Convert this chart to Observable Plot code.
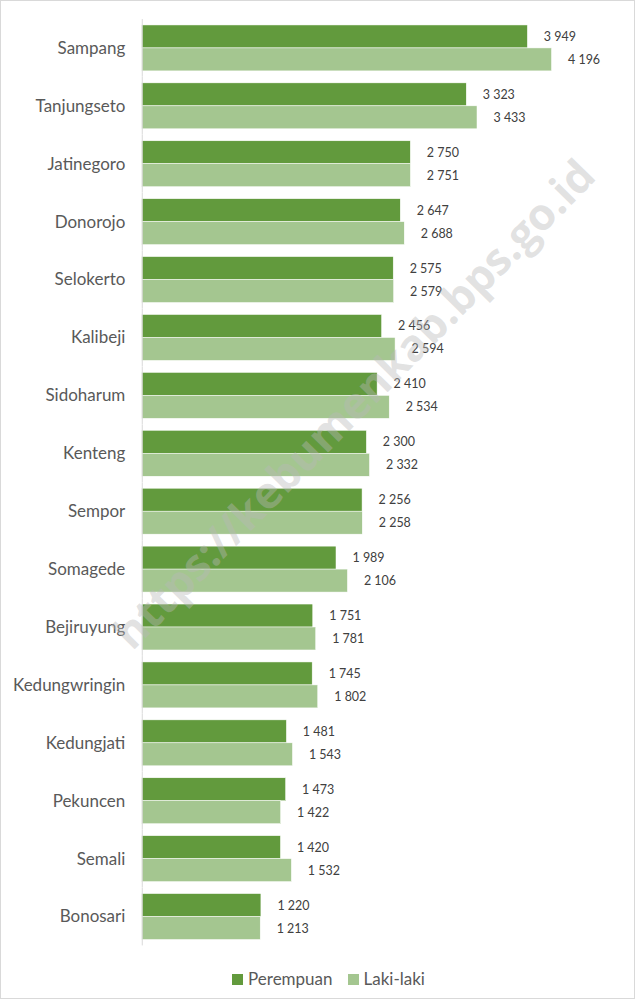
<!DOCTYPE html>
<html><head><meta charset="utf-8">
<script src="https://cdn.jsdelivr.net/npm/d3@7"></script>
<script src="https://cdn.jsdelivr.net/npm/@observablehq/plot@0.6"></script>
<style>
html,body{margin:0;padding:0;background:#fff;}
#wrap{position:relative;width:635px;height:999px;box-sizing:border-box;border:1px solid #d9d9d9;overflow:hidden;font-family:Lato,"Open Sans",sans-serif;}
#chart{position:absolute;left:-1px;top:-1px;}
#legend{position:absolute;left:20px;top:967px;width:615px;display:flex;justify-content:center;gap:15px;font-size:17px;color:#595959;}
#legend span.sw{display:inline-block;width:11px;height:11px;margin-right:5px;vertical-align:0px;}
#wm{position:absolute;left:352px;top:402px;transform:translate(-50%,-50%) rotate(-45.5deg);font-family:"Open Sans",sans-serif;font-weight:bold;font-size:44px;color:rgba(185,185,185,0.42);white-space:nowrap;pointer-events:none;}
</style></head>
<body><div id="wrap"><div id="chart"></div><div id="wm">https://kebumenkab.bps.go.id</div><div id="legend"></div></div>
<script>
const categories = ["Sampang","Tanjungseto","Jatinegoro","Donorojo","Selokerto","Kalibeji","Sidoharum","Kenteng","Sempor","Somagede","Bejiruyung","Kedungwringin","Kedungjati","Pekuncen","Semali","Bonosari"];
const series = ["Perempuan","Laki-laki"];
const perempuan = [3949,3323,2750,2647,2575,2456,2410,2300,2256,1989,1751,1745,1481,1473,1420,1220];
const lakilaki = [4196,3433,2751,2688,2579,2594,2534,2332,2258,2106,1781,1802,1543,1422,1532,1213];
const colors = ["#629A3D","#A4C690"];

const data = [];
categories.forEach((c,i)=>{
  data.push({cat:c, s:series[0], v:perempuan[i]});
  data.push({cat:c, s:series[1], v:lakilaki[i]});
});
const fmt = v => d3.format(",")(v).replace(/,/g," ");

const chart = Plot.plot({
  width: 635,
  height: 962,
  marginTop: 18,
  marginBottom: 14,
  marginLeft: 142,
  marginRight: 4,
  style: {fontFamily: 'Lato, "Open Sans", sans-serif', background: "transparent"},
  x: {domain: [0, 5000], axis: null},
  y: {domain: series, padding: 0, axis: null},
  fy: {domain: categories, paddingInner: 0.2, paddingOuter: 0.1, label: null},
  color: {domain: series, range: colors},
  marks: [
    Plot.axisFy({anchor: "left", tickSize: 0, tickPadding: 17, fontSize: 17, fontWeight: "normal", fill: "#595959", label: null}),
    Plot.barX(data, {fy: "cat", y: "s", x: "v", fill: "s", stroke: "#ffffff", strokeWidth: 0.5}),
    Plot.text(data, {fy: "cat", y: "s", x: "v", text: d => fmt(d.v), textAnchor: "start", dx: 16, fontSize: 12.5, fill: "#404040"}),
    Plot.ruleX([0], {stroke: "#d9d9d9", strokeWidth: 1, insetTop: -5.9, insetBottom: -5.9})
  ]
});
document.getElementById("chart").appendChild(chart);

const lg = document.getElementById("legend");
series.forEach((s,i)=>{
  const it = document.createElement("div");
  it.innerHTML = `<span class="sw" style="background:${colors[i]}"></span>${s}`;
  lg.appendChild(it);
});
</script></body></html>
